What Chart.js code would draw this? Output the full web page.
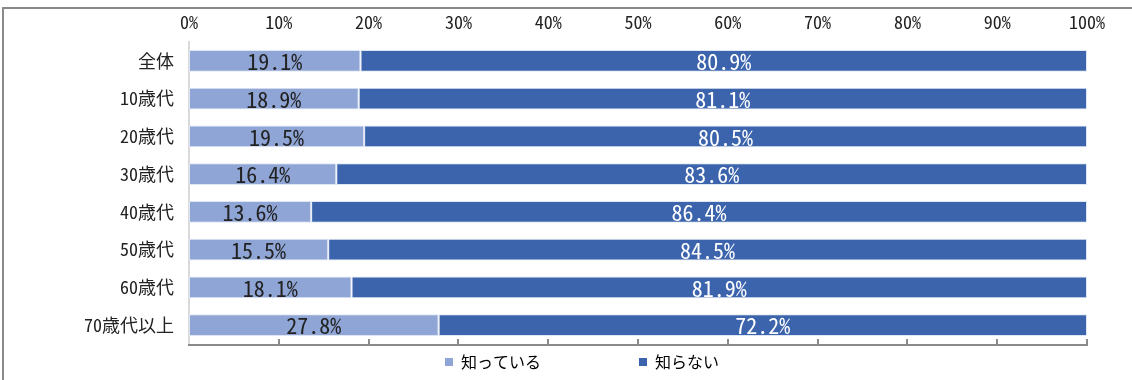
<html>
  <head>
    <script src="https://cdn.jsdelivr.net/npm/chart.js@4"></script>
    <style>
      body { margin: 0; background: #fff; }
      #wrap { width: 1132px; height: 380px; }
    </style>
  </head>
  <body>
    <div id="wrap"><canvas id="chart"></canvas></div>
    <script>
const categories = ["全体", "10歳代", "20歳代", "30歳代", "40歳代", "50歳代", "60歳代", "70歳代以上"];
const known = [19.1, 18.9, 19.5, 16.4, 13.6, 15.5, 18.1, 27.8];
const unknown = [80.9, 81.1, 80.5, 83.6, 86.4, 84.5, 81.9, 72.2];
const seriesNames = ["知っている", "知らない"];
const xTicks = [0, 10, 20, 30, 40, 50, 60, 70, 80, 90, 100];

const FONT = "'Noto Sans Mono CJK JP', 'Noto Sans CJK JP', sans-serif";
const LIGHT = "#8fa5d5";
const DARK = "#3c64ad";

// outer frame, partly off the canvas like in the original
var framePlugin = {
  id: "frame",
  beforeDraw(chart) {
    var ctx = chart.ctx;
    ctx.save();
    ctx.fillStyle = "#fff";
    ctx.fillRect(0, 0, chart.width, chart.height);
    ctx.strokeStyle = "#8a8a8a";
    ctx.lineWidth = 2;
    ctx.strokeRect(3, 8, chart.width + 20, chart.height + 20);
    ctx.restore();
  }
};

// bottom axis line with tick marks pointing up
var axisPlugin = {
  id: "bottomAxis",
  afterDatasetsDraw(chart) {
    var ctx = chart.ctx, x = chart.scales.x, area = chart.chartArea;
    ctx.save();
    ctx.strokeStyle = "#8a8a8a";
    ctx.lineWidth = 2;
    ctx.beginPath();
    ctx.moveTo(area.left - 1, area.bottom + 1);
    ctx.lineTo(area.right + 1, area.bottom + 1);
    xTicks.forEach(v => {
      if (v == 0) return;
      var px = Math.round(x.getPixelForValue(v));
      ctx.moveTo(px, area.bottom + 1);
      ctx.lineTo(px, area.bottom - 5);
    });
    ctx.stroke();
    ctx.restore();
  }
};

// value labels centred in each segment
var labelPlugin = {
  id: "segLabels",
  afterDatasetsDraw(chart) {
    var ctx = chart.ctx;
    ctx.save();
    ctx.font = "22px " + FONT;
    ctx.textAlign = "center";
    ctx.textBaseline = "middle";
    chart.data.datasets.forEach((ds, di) => {
      var meta = chart.getDatasetMeta(di);
      meta.data.forEach((bar, i) => {
        var p = bar.getCenterPoint();
        ctx.fillStyle = di == 0 ? "#222" : "#fff";
        ctx.fillText(ds.data[i].toFixed(1) + "%", p.x, p.y + 1);
      });
    });
    ctx.restore();
  }
};

new Chart(document.getElementById("chart"), {
  type: "bar",
  data: {
    labels: categories,
    datasets: [{
      label: seriesNames[0],
      data: known,
      backgroundColor: LIGHT,
      borderColor: "#dfe6f3",
      borderWidth: 1,
      borderSkipped: false,
      barPercentage: 0.58,
      categoryPercentage: 1
    }, {
      label: seriesNames[1],
      data: unknown,
      backgroundColor: DARK,
      borderColor: "#dfe6f3",
      borderWidth: 1,
      borderSkipped: false,
      barPercentage: 0.58,
      categoryPercentage: 1
    }]
  },
  options: {
    indexAxis: "y",
    responsive: true,
    maintainAspectRatio: false,
    animation: false,
    layout: { padding: { left: 32, right: 0, top: 0, bottom: 0 } },
    scales: {
      x: {
        position: "top",
        stacked: true,
        min: 0,
        max: 100,
        afterBuildTicks: s => { s.ticks = xTicks.map(v => ({ value: v })); },
        afterFit: s => { s.height = 42; },
        grid: { display: false, drawTicks: false },
        border: { display: false },
        ticks: {
          padding: 9,
          color: "#222",
          font: { family: FONT, size: 18 },
          callback: v => v + "%"
        }
      },
      y: {
        stacked: true,
        afterFit: s => { s.width = 157; },
        grid: { display: false, drawTicks: false },
        border: { display: true, color: "#d9d9d9", width: 2 },
        ticks: {
          padding: 15,
          color: "#222",
          font: { family: FONT, size: 18 }
        }
      },
      yr: {
        position: "right",
        afterFit: s => { s.width = 45; },
        grid: { display: false, drawTicks: false },
        border: { display: false },
        ticks: { display: false }
      }
    },
    plugins: {
      tooltip: { enabled: false },
      legend: {
        position: "bottom",
        labels: {
          boxWidth: 8,
          boxHeight: 8,
          padding: 10,
          color: "#222",
          font: { family: FONT, size: 16 },
          generateLabels: chart => chart.data.datasets.map((ds, i) => ({
            text: i == 0 ? ds.label + "\u3000\u3000\u3000\u3000\u3000 " : ds.label,
            fillStyle: ds.backgroundColor,
            strokeStyle: ds.backgroundColor,
            lineWidth: 0,
            datasetIndex: i
          }))
        }
      }
    }
  },
  plugins: [framePlugin, axisPlugin, labelPlugin]
});
    </script>
  </body>
</html>
